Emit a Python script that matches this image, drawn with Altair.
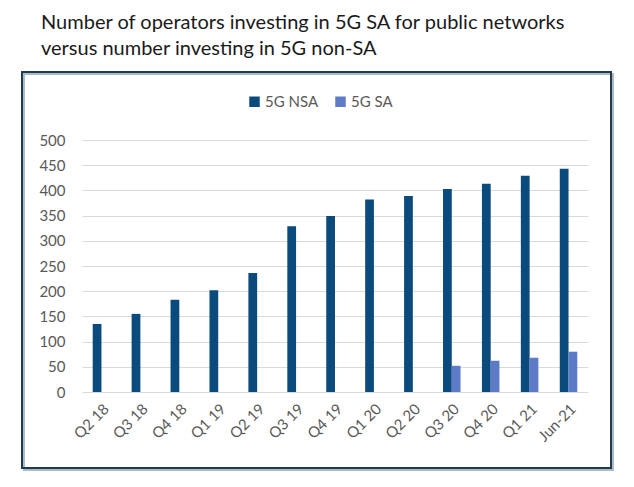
import altair as alt
import pandas as pd

quarters = ["Q2 18", "Q3 18", "Q4 18", "Q1 19", "Q2 19", "Q3 19", "Q4 19",
            "Q1 20", "Q2 20", "Q3 20", "Q4 20", "Q1 21", "Jun-21"]
nsa = [135, 155, 183, 202, 236, 329, 349, 382, 389, 403, 413, 429, 443]
sa_quarters = ["Q3 20", "Q4 20", "Q1 21", "Jun-21"]
sa = [52, 62, 68, 80]
series = ["5G NSA", "5G SA"]
colors = ["#0b4a7c", "#5d7bc6"]

rows = [{"quarter": q, "series": series[0], "value": v} for q, v in zip(quarters, nsa)]
rows += [{"quarter": q, "series": series[1], "value": v} for q, v in zip(sa_quarters, sa)]
df = pd.DataFrame(rows)

W, H = 506, 252
FONT = "Lato"

bars = alt.Chart(df).mark_bar().encode(
    x=alt.X("quarter:N", sort=quarters,
            scale=alt.Scale(paddingInner=0.55, paddingOuter=0.275),
            axis=alt.Axis(title=None, labelAngle=-45, labelFontSize=15,
                          labelColor="#595959", domain=False, ticks=False,
                          labelPadding=9, labelFont=FONT)),
    xOffset=alt.XOffset("series:N", sort=series),
    y=alt.Y("value:Q", scale=alt.Scale(domain=[0, 500]),
            axis=alt.Axis(title=None, values=list(range(0, 501, 50)),
                          labelFontSize=15, labelColor="#595959",
                          domain=False, ticks=False, labelPadding=17,
                          gridColor="#d9d9d9", labelFont=FONT)),
    color=alt.Color("series:N", sort=series,
                    scale=alt.Scale(domain=series, range=colors),
                    legend=alt.Legend(title=None, orient="none",
                                      direction="horizontal",
                                      legendX=165, legendY=-46,
                                      symbolType="square", symbolSize=110,
                                      labelFontSize=15, labelColor="#595959",
                                      labelFont=FONT, columnPadding=14,
                                      symbolOffset=0, labelOffset=3)),
)

shadow = alt.Chart(df).mark_rect(filled=False, stroke="#a9bccb",
                                 strokeWidth=2).encode(
    x=alt.value(-58), x2=alt.value(531), y=alt.value(-66), y2=alt.value(330))
frame = alt.Chart(df).mark_rect(filled=False, stroke="#233a4b",
                                strokeWidth=2).encode(
    x=alt.value(-60), x2=alt.value(529), y=alt.value(-68), y2=alt.value(328))

chart = alt.layer(shadow, frame, bars).properties(
    width=W, height=H,
    autosize=alt.AutoSizeParams(type="none"),
    padding={"left": 74, "top": 132, "right": 38, "bottom": 87},
    title=alt.TitleParams(
        text=["Number of operators investing in 5G SA for public networks",
              "versus number investing in 5G non-SA"],
        anchor="start", dx=20, offset=12, fontSize=20, font=FONT,
        fontWeight="normal", color="#1a1a1a", lineHeight=26),
).configure_view(stroke=None)

chart.save("out.html", embed_options={"renderer": "svg", "actions": False})
